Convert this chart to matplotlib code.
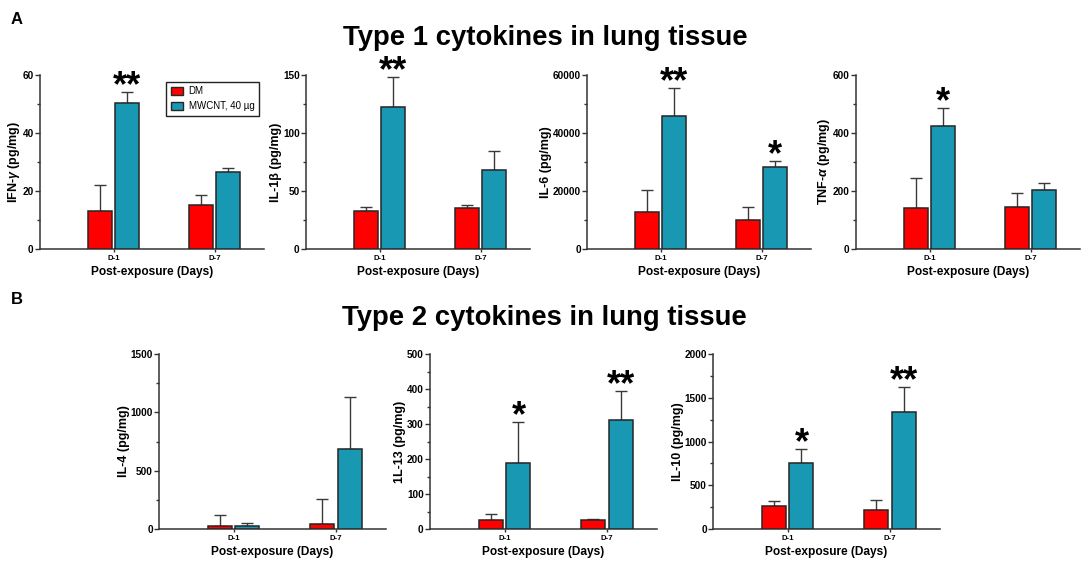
import numpy as np
import matplotlib
matplotlib.use('Agg')
import matplotlib.pyplot as plt
from matplotlib.ticker import MultipleLocator
from matplotlib.patches import Patch

plt.rcParams['font.family'] = ['Liberation Sans', 'DejaVu Sans']
plt.rcParams['font.weight'] = 'bold'
plt.rcParams['mathtext.fontset'] = 'custom'
plt.rcParams['mathtext.it'] = 'Liberation Sans:italic:bold'
plt.rcParams['mathtext.rm'] = 'Liberation Sans:bold'

days = ['D-1', 'D-7']
groups = ['DM', 'MWCNT, 40 µg']

# mean and upper error (SEM) per cytokine
ifn_dm, ifn_dm_err = [13.1, 15.1], [9.0, 3.5]
ifn_mw, ifn_mw_err = [50.5, 26.6], [3.5, 1.2]

il1b_dm, il1b_dm_err = [32.8, 35.1], [3.2, 2.8]
il1b_mw, il1b_mw_err = [122.0, 68.0], [26.5, 16.7]

il6_dm, il6_dm_err = [12900, 10000], [7600, 4600]
il6_mw, il6_mw_err = [45800, 28200], [9800, 2100]

tnf_dm, tnf_dm_err = [140, 144], [106, 50]
tnf_mw, tnf_mw_err = [424, 203], [62, 23]

il4_dm, il4_dm_err = [26, 40], [97, 220]
il4_mw, il4_mw_err = [26, 683], [28, 446]

il13_dm, il13_dm_err = [25.7, 25.7], [17, 2.3]
il13_mw, il13_mw_err = [190, 311], [117, 83]

il10_dm, il10_dm_err = [263, 217], [61, 114]
il10_mw, il10_mw_err = [750, 1337], [168, 286]

ifn_stars = ['**', '']
il1b_stars = ['**', '']
il6_stars = ['**', '*']
tnf_stars = ['*', '']
il4_stars = ['', '']
il13_stars = ['*', '**']
il10_stars = ['*', '**']

RED = '#ff0000'
TEAL = '#1898b2'
EDGE = '#262626'
W, H = 1084, 564

fig = plt.figure(figsize=(W / 100, H / 100), dpi=100)


def add_ax(left, top, width, height):
    return fig.add_axes([left / W, 1 - (top + height) / H, width / W, height / H])


def panel(ax, dm, dm_err, mw, mw_err, stars, ylabel, ymax, major, minor):
    x = np.arange(len(days))
    off, bw = 0.135, 0.235
    ax.bar(x - off, dm, bw, color=RED, edgecolor=EDGE, linewidth=1.1, zorder=3)
    ax.bar(x + off, mw, bw, color=TEAL, edgecolor=EDGE, linewidth=1.1, zorder=3)
    ax.errorbar(x - off, dm, yerr=[np.zeros(len(dm)), dm_err], fmt='none',
                ecolor='#3a3a3a', elinewidth=1.0, capsize=4.6, capthick=1.0, zorder=2)
    ax.errorbar(x + off, mw, yerr=[np.zeros(len(mw)), mw_err], fmt='none',
                ecolor='#3a3a3a', elinewidth=1.0, capsize=4.6, capthick=1.0, zorder=2)
    for i, s in enumerate(stars):
        if s:
            ax.annotate(s, (x[i] + off, mw[i] + mw_err[i]), xytext=(0, -3),
                        textcoords='offset points', ha='center', va='baseline',
                        fontsize=26, fontweight='bold', annotation_clip=False)
    ax.set_xlim(-0.73, 1.49)
    ax.set_ylim(0, ymax)
    ax.set_xticks(x)
    ax.set_xticklabels(days, fontsize=5.6, fontweight='bold')
    ax.yaxis.set_major_locator(MultipleLocator(major))
    ax.yaxis.set_minor_locator(MultipleLocator(minor))
    ax.ticklabel_format(axis='y', style='plain', useOffset=False)
    for lab in ax.get_yticklabels():
        lab.set_fontsize(7.2)
        lab.set_fontweight('bold')
    ax.tick_params(axis='y', which='major', length=3.5, width=1.0, pad=1.0, color='#333333')
    ax.tick_params(axis='y', which='minor', length=2.2, width=1.0, color='#333333')
    ax.tick_params(axis='x', length=2.5, width=1.0, pad=2, color='#333333')
    for side in ['top', 'right']:
        ax.spines[side].set_visible(False)
    for side in ['left', 'bottom']:
        ax.spines[side].set_linewidth(1.1)
        ax.spines[side].set_color('#333333')
    ax.set_ylabel(ylabel, fontsize=9, fontweight='bold', labelpad=0.5)
    ax.set_xlabel('Post-exposure (Days)', fontsize=8.6, fontweight='bold', labelpad=3)


# Type 1 row
ax1 = add_ax(40, 75, 224, 174)
panel(ax1, ifn_dm, ifn_dm_err, ifn_mw, ifn_mw_err, ifn_stars, 'IFN-$\\gamma$ (pg/mg)', 60, 20, 10)
ax2 = add_ax(306, 75, 224, 174)
panel(ax2, il1b_dm, il1b_dm_err, il1b_mw, il1b_mw_err, il1b_stars, 'IL-1β (pg/mg)', 150, 50, 25)
ax3 = add_ax(587, 75, 224, 174)
panel(ax3, il6_dm, il6_dm_err, il6_mw, il6_mw_err, il6_stars, 'IL-6 (pg/mg)', 60000, 20000, 10000)
ax4 = add_ax(856, 75, 224, 174)
panel(ax4, tnf_dm, tnf_dm_err, tnf_mw, tnf_mw_err, tnf_stars, 'TNF-$\\alpha$ (pg/mg)', 600, 200, 100)

# Type 2 row
ax5 = add_ax(159, 354, 227, 175)
panel(ax5, il4_dm, il4_dm_err, il4_mw, il4_mw_err, il4_stars, 'IL-4 (pg/mg)', 1500, 500, 250)
ax6 = add_ax(430, 354, 227, 175)
panel(ax6, il13_dm, il13_dm_err, il13_mw, il13_mw_err, il13_stars, '1L-13 (pg/mg)', 500, 100, 50)
ax7 = add_ax(713, 354, 227, 175)
panel(ax7, il10_dm, il10_dm_err, il10_mw, il10_mw_err, il10_stars, 'IL-10 (pg/mg)', 2000, 500, 250)

handles = [Patch(facecolor=RED, edgecolor=EDGE, linewidth=1.0),
           Patch(facecolor=TEAL, edgecolor=EDGE, linewidth=1.0)]
leg = ax1.legend(handles, groups, loc='upper right', bbox_to_anchor=(1.0, 0.99),
                 fancybox=False, edgecolor='#222222', framealpha=1,
                 prop={'size': 7, 'weight': 'normal'}, handlelength=1.2,
                 handleheight=1.0, handletextpad=0.6, borderpad=0.5, labelspacing=0.5)
leg.get_frame().set_linewidth(1.0)

fig.text(545 / W, 1 - 45 / H, 'Type 1 cytokines in lung tissue', ha='center', va='baseline',
         fontsize=19.8, fontweight='bold')
fig.text(544 / W, 1 - 325 / H, 'Type 2 cytokines in lung tissue', ha='center', va='baseline',
         fontsize=19.8, fontweight='bold')
fig.text(11 / W, 1 - 24 / H, 'A', ha='left', va='baseline', fontsize=12, fontweight='bold')
fig.text(11 / W, 1 - 304 / H, 'B', ha='left', va='baseline', fontsize=12, fontweight='bold')

fig.savefig('out.png', dpi=100, facecolor='white')
